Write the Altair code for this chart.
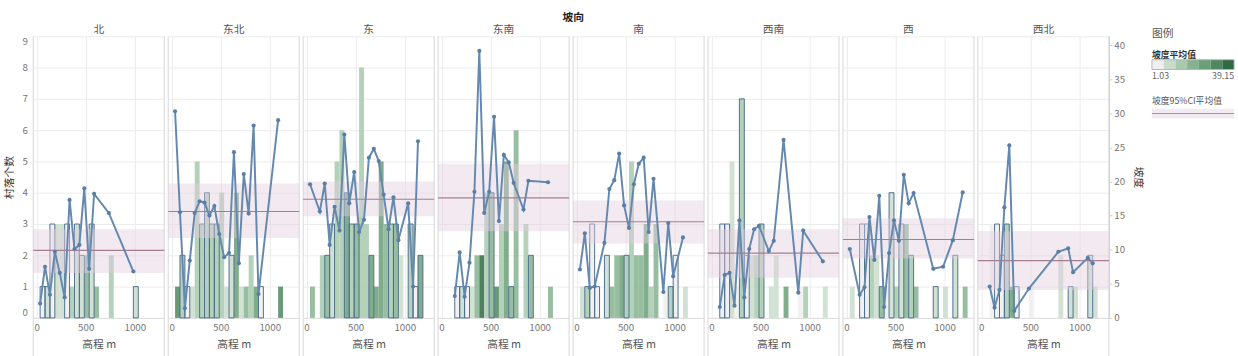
import altair as alt
import pandas as pd

FONT = "Noto Sans CJK SC"

directions = ["北", "东北", "东", "东南", "南", "西南", "西", "西北"]

# (bin start elevation m, village count, mean slope, outlined bar 0/1)
north = [(35, 1, 2.1, 1), (85, 1, 7.5, 1), (135, 3, 3.4, 1), (185, 3, 9.7, 0), (235, 3, 6.6, 0),
         (285, 3, 3.0, 1), (335, 1, 17.3, 0), (385, 3, 10.1, 1), (435, 2, 10.7, 1), (485, 2, 19.0, 0),
         (535, 3, 7.2, 1), (585, 1, 18.2, 0), (735, 2, 15.4, 0), (985, 1, 6.8, 1)]
northeast = [(35, 1, 30.3, 0), (85, 2, 15.5, 1), (135, 1, 1.4, 1), (185, 1, 8.4, 0), (235, 5, 15.4, 0),
             (285, 3, 17.1, 1), (335, 4, 16.9, 1), (385, 3, 15.0, 1), (435, 3, 16.4, 1), (485, 4, 12.3, 0),
             (535, 1, 8.9, 0), (585, 2, 9.5, 1), (635, 4, 24.3, 0), (685, 1, 8.0, 0), (735, 1, 21.1, 0),
             (785, 2, 15.3, 0), (835, 1, 28.2, 0), (885, 1, 3.5, 1), (1085, 1, 29.0, 0)]
east = [(35, 1, 19.6, 0), (135, 2, 15.6, 0), (185, 2, 19.7, 1), (235, 3, 10.7, 1), (285, 5, 16.3, 0),
        (335, 6, 12.8, 0), (385, 4, 26.9, 1), (435, 3, 16.8, 1), (485, 3, 21.4, 1), (535, 8, 12.6, 0),
        (585, 3, 14.4, 0), (635, 2, 23.5, 1), (685, 1, 24.8, 0), (735, 5, 23.0, 0), (785, 3, 18.1, 0),
        (835, 3, 13.0, 1), (885, 3, 17.7, 1), (935, 2, 11.4, 0), (1035, 3, 16.8, 1), (1085, 1, 4.6, 1),
        (1135, 2, 25.9, 1)]
southeast = [(135, 1, 3.2, 1), (185, 1, 9.6, 1), (235, 1, 3.1, 1), (285, 1, 8.1, 0), (335, 2, 18.5, 0),
             (385, 2, 39.15, 0), (435, 4, 15.4, 0), (485, 4, 18.5, 1), (535, 1, 29.5, 0), (585, 3, 14.2, 0),
             (635, 5, 23.9, 0), (685, 1, 22.8, 1), (735, 6, 19.8, 0), (835, 3, 15.9, 0), (885, 2, 20.1, 1),
             (1085, 1, 19.9, 0)]
south = [(35, 1, 7.1, 0), (85, 1, 12.4, 1), (135, 3, 4.4, 1), (185, 1, 4.6, 1), (285, 2, 11.0, 1),
         (335, 1, 18.9, 0), (385, 2, 20.2, 0), (435, 2, 24.1, 0), (485, 2, 16.5, 1), (535, 5, 13.2, 0),
         (585, 2, 19.6, 0), (635, 2, 22.6, 0), (685, 3, 23.5, 0), (735, 1, 12.6, 0), (785, 3, 20.4, 0),
         (885, 1, 3.8, 0), (935, 1, 13.9, 1), (985, 2, 6.1, 1), (1085, 1, 11.8, 0)]
southwest = [(85, 3, 1.6, 1), (135, 3, 6.3, 1), (185, 5, 6.6, 0), (235, 1, 1.8, 0), (285, 7, 14.3, 1),
             (335, 2, 3.0, 1), (385, 2, 10.1, 0), (435, 2, 13.0, 0), (485, 3, 13.5, 1), (585, 1, 9.8, 0),
             (635, 2, 11.3, 0), (735, 1, 26.1, 0), (885, 1, 3.7, 0), (935, 1, 12.8, 0), (1135, 1, 8.3, 0)]
west = [(35, 1, 10.1, 0), (135, 3, 3.4, 1), (185, 3, 4.5, 1), (235, 2, 14.8, 0), (285, 2, 8.5, 0),
        (335, 1, 17.9, 1), (385, 1, 1.6, 0), (435, 4, 9.5, 1), (485, 1, 14.3, 0), (535, 3, 11.3, 1),
        (585, 3, 21.0, 0), (635, 2, 16.8, 1), (685, 1, 18.3, 0), (885, 1, 7.2, 1), (985, 1, 7.5, 0),
        (1085, 2, 11.4, 1), (1185, 1, 18.4, 0)]
northwest = [(85, 3, 4.6, 0), (135, 3, 1.5, 1), (185, 2, 4.1, 1), (235, 3, 16.2, 1), (285, 1, 25.3, 0),
             (335, 1, 1.03, 1), (485, 1, 4.3, 0), (785, 2, 9.7, 0), (885, 1, 10.2, 1), (935, 1, 6.7, 0),
             (1085, 2, 8.8, 1), (1135, 1, 8.0, 0)]

panels = [north, northeast, east, southeast, south, southwest, west, northwest]

# slope 95% CI band and mean per direction
ci_low = [6.6, 11.7, 14.9, 12.7, 10.9, 5.9, 8.7, 4.1]
ci_high = [13.0, 19.7, 20.0, 22.6, 17.2, 13.0, 14.6, 12.7]
ci_mean = [9.9, 15.6, 17.4, 17.6, 14.1, 9.5, 11.5, 8.4]

slope_domain = [1.03, 39.15]
palette = ["#efefef", "#c9dccc", "#a7c9ae", "#85b391", "#6a9f78", "#4e8760", "#2f6a43"]

W, H = 134, 288
BIN = 50
SEP = "#d6d6d6"
BAND = "#e2cfe0"

xscale = alt.Scale(domain=[-35, 1300], nice=False, zero=False, padding=0)
xaxis = alt.Axis(values=[0, 500, 1000], format="d", title="高程 m", grid=True, gridColor="#ececec",
                 domain=True, domainColor="#dddddd", ticks=False, labelColor="#777",
                 labelFontSize=10, titleColor="#555", titleFontSize=11, titleFontWeight="normal",
                 labelPadding=5, titlePadding=6, labelFlush=False)
yL = alt.Scale(domain=[0, 9], nice=False, zero=True, padding=0)
yR = alt.Scale(domain=[0, 41.3], nice=False, zero=True, padding=0)


def left_axis(show):
    return alt.Axis(orient="left", values=list(range(10)), title="村落个数" if show else "",
                    grid=True, gridColor="#ececec", domain=False, ticks=False,
                    labels=show, labelColor="#777", labelFontSize=10, titleColor="#333",
                    titleFontSize=11, titleFontWeight="normal", labelPadding=6, titlePadding=8,
                    labelFlush=True)


def right_axis():
    return alt.Axis(orient="right", values=list(range(0, 41, 5)), title="坡度", grid=False,
                    domain=True, domainColor="#cccccc", ticks=True, tickSize=3,
                    tickColor="#cccccc", labelColor="#777", labelFontSize=10,
                    titleColor="#333", titleFontSize=11, titleFontWeight="normal",
                    labelPadding=2, titlePadding=8, labelFlush=False)


def make_panel(i):
    d = directions[i]
    recs = panels[i]
    df = pd.DataFrame({
        "elev": [r[0] for r in recs],
        "cnt": [r[1] for r in recs],
        "slope": [r[2] for r in recs],
        "outline": [r[3] for r in recs],
    })
    first = i == 0
    last = i == len(directions) - 1
    la = left_axis(first)
    base = alt.Chart(df)

    bars = base.mark_rect(opacity=0.85).transform_calculate(
        elev2="datum.elev + %d" % BIN
    ).encode(
        x=alt.X("elev:Q", scale=xscale, axis=xaxis),
        x2="elev2:Q",
        y=alt.Y("cnt:Q", scale=yL, axis=la),
        y2=alt.Y2(datum=0),
        color=alt.Color("slope:Q",
                        scale=alt.Scale(type="quantize", domain=slope_domain, range=palette),
                        legend=None),
    )
    outlines = base.mark_rect(fillOpacity=0, stroke="#4f6f8e", strokeWidth=1).transform_filter(
        "datum.outline == 1"
    ).transform_calculate(
        elev2="datum.elev + %d" % BIN
    ).encode(
        x=alt.X("elev:Q", scale=xscale, axis=xaxis),
        x2="elev2:Q",
        y=alt.Y("cnt:Q", scale=yL, axis=la),
        y2=alt.Y2(datum=0),
    )
    sep_data = pd.DataFrame({"dir": [d]})
    sepL = alt.Chart(sep_data).mark_rule(color=SEP, strokeWidth=1, y2Offset=40).encode(
        x=alt.value(0), y=alt.Y(datum=9, scale=yL, axis=la), y2=alt.Y2(datum=0))
    sepR = alt.Chart(sep_data).mark_rule(color=SEP, strokeWidth=1, y2Offset=40).encode(
        x=alt.value(W), y=alt.Y(datum=9, scale=yL, axis=la), y2=alt.Y2(datum=0))
    left = alt.layer(sepL, sepR, bars, outlines)

    ci = pd.DataFrame({"lo": [ci_low[i]], "hi": [ci_high[i]], "m": [ci_mean[i]]})
    yR_kw = {"axis": right_axis()} if last else {"axis": None}
    band = alt.Chart(ci).mark_rect(color=BAND, opacity=0.45).encode(
        x=alt.value(0), x2=alt.value(W),
        y=alt.Y("lo:Q", scale=yR, **yR_kw),
        y2="hi:Q",
    )
    mean_rule = alt.Chart(ci).mark_rule(color="#a77d91", strokeWidth=1.2).encode(
        x=alt.value(0), x2=alt.value(W),
        y=alt.Y("m:Q", scale=yR, **yR_kw),
    )
    line = base.mark_line(color="#6588ae", strokeWidth=2).encode(
        x=alt.X("elev:Q", scale=xscale, axis=xaxis),
        y=alt.Y("slope:Q", scale=yR, **yR_kw),
        order="elev:Q",
    )
    pts = base.mark_circle(color="#5a7fa6", size=18, opacity=1).encode(
        x=alt.X("elev:Q", scale=xscale, axis=xaxis),
        y=alt.Y("slope:Q", scale=yR, **yR_kw),
    )
    right = alt.layer(band, mean_rule, line, pts)

    return alt.layer(left, right).resolve_scale(y="independent").properties(
        width=W, height=H,
        title=alt.TitleParams(d, fontSize=11, color="#555", fontWeight="normal",
                              anchor="middle", offset=1),
    )


main = alt.hconcat(*[make_panel(i) for i in range(len(directions))], spacing=0).resolve_scale(
    x="independent", y="independent", color="independent"
).properties(
    title=alt.TitleParams("坡向", fontSize=11, color="#222", fontWeight="bold",
                          anchor="middle", offset=1)
)

# legend panel
steps = pd.DataFrame({"i": list(range(len(palette))), "c": palette})
one = pd.DataFrame({"a": [1]})
LW = 84
R0, R1 = 24, 34
ramp = alt.Chart(steps).mark_rect().encode(
    x=alt.X("i:O", axis=None, scale=alt.Scale(paddingInner=0, paddingOuter=0)),
    y=alt.value(R0), y2=alt.value(R1),
    color=alt.Color("i:O", scale=alt.Scale(domain=list(range(len(palette))), range=palette),
                    legend=None),
)
ramp_border = alt.Chart(one).mark_rect(fillOpacity=0, stroke="#b5b5b5", strokeWidth=1).encode(
    x=alt.value(0), x2=alt.value(LW), y=alt.value(R0), y2=alt.value(R1))


def txt(t, x, y, size=10, color="#555", align="left", weight="normal"):
    return alt.Chart(one).mark_text(text=t, align=align, baseline="middle", fontSize=size,
                                    color=color, fontWeight=weight).encode(
        x=alt.value(x), y=alt.value(y))


band_sw = alt.Chart(one).mark_rect(color="#f3ebf2").encode(
    x=alt.value(0), x2=alt.value(LW), y=alt.value(74), y2=alt.value(84))
band_ln = alt.Chart(one).mark_rule(color="#b58ea2", strokeWidth=1.2).encode(
    x=alt.value(0), x2=alt.value(LW), y=alt.value(79))

legend = alt.layer(
    txt("图例", 0, -2, 11, "#555"),
    txt("坡度平均值", 0, 19, 9, "#333", weight="bold"),
    ramp, ramp_border,
    txt("%.2f" % slope_domain[0], 0, 41, 9, "#666"),
    txt("%.2f" % slope_domain[1], LW, 41, 9, "#666", align="right"),
    txt("坡度95%CI平均值", 0, 66, 9, "#555"),
    band_sw, band_ln,
).properties(width=LW, height=H)

chart = alt.hconcat(main, legend, spacing=6).resolve_scale(
    x="independent", y="independent", color="independent"
).configure(
    font=FONT, padding={"left": 2, "top": 8, "right": 2, "bottom": 0}
).configure_view(stroke="transparent")

chart.save("out.html", embed_options={"renderer": "svg", "actions": False})
